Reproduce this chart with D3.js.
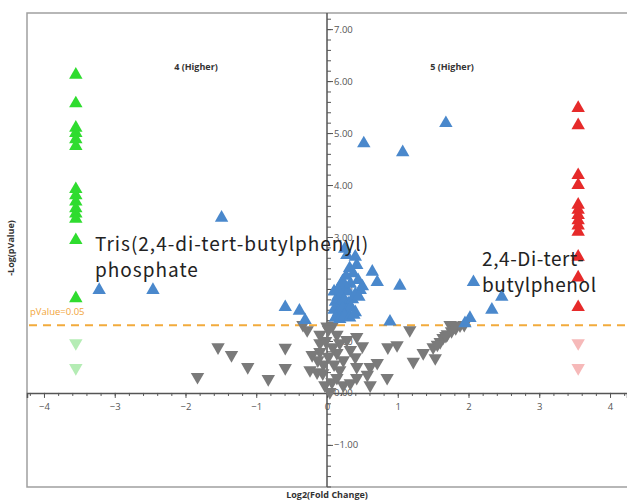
<!DOCTYPE html>
<html><head><meta charset="utf-8">
<script src="https://cdn.jsdelivr.net/npm/d3@7"></script>
<style>body{margin:0;background:#fff;} svg{display:block;}</style>
</head><body>
<svg id="chart" width="627" height="501"></svg>
<script>
// ---- data ----
const greenX = -3.55;
const greenUp = [6.12, 5.57, 5.10, 5.00, 4.88, 4.75, 3.92, 3.80, 3.68, 3.55, 3.45, 3.35, 2.94, 1.82];
const greenDown = [0.96, 0.48];
const redX = 3.55;
const redUp = [5.48, 5.15, 4.19, 4.00, 3.62, 3.52, 3.42, 3.32, 3.22, 3.10, 2.62, 2.22, 1.65];
const redDown = [0.96, 0.48];
const bluePoints = [
  [-3.22,1.98],[-2.46,1.98],[-1.49,3.37],[-0.59,1.65],[-0.39,1.58],[-0.31,1.40],
  [0.52,4.80],[1.07,4.63],[1.68,5.19],
  [0.25,2.77],[0.28,2.65],[0.40,2.62],[0.42,2.46],[0.37,2.30],[0.64,2.33],[0.71,2.13],[1.03,2.06],[0.44,2.17],[0.47,1.98],
  [0.10,1.95],[0.15,1.85],[0.20,1.90],[0.25,2.00],[0.30,1.95],[0.12,1.75],[0.18,1.70],[0.24,1.78],[0.30,1.72],[0.36,1.80],
  [0.40,1.90],[0.45,1.85],[0.10,1.60],[0.16,1.55],[0.22,1.62],[0.28,1.58],[0.34,1.65],[0.40,1.55],[0.12,1.45],[0.18,1.42],
  [0.25,1.48],[0.32,1.45],[0.38,1.50],[0.20,2.08],[0.33,2.10],[0.15,1.98],[0.50,2.05],[0.27,2.25],[0.32,2.40],[0.22,2.15],
  [0.89,1.37],[2.07,2.13],[2.47,1.85],[2.33,1.60],[2.02,1.44],[1.95,1.34]
];
const greyPoints = [
  [-1.83,0.31],[-1.54,0.88],[-1.35,0.73],[-1.12,0.50],[-0.83,0.27],[-0.59,0.87],[-0.59,0.48],
  [-0.34,1.31],[-0.28,1.21],[-0.10,1.12],[-0.10,0.96],[-0.10,0.79],[-0.21,0.73],[-0.13,0.63],[-0.24,0.44],
  [-0.14,0.40],[-0.06,0.38],[-0.03,0.15],[0.07,0.21],[0.04,0.02],[-0.05,0.55],[-0.02,1.00],[0.02,0.70],[0.00,1.28],
  [0.14,1.12],[0.18,0.96],[0.14,0.77],[0.23,0.63],[0.33,0.83],[0.42,1.08],[0.40,0.69],[0.42,0.50],[0.18,0.44],
  [0.14,0.29],[0.23,0.15],[0.33,0.19],[0.42,0.29],[0.61,0.50],[0.71,0.58],[0.57,0.35],[0.61,0.15],[0.85,0.29],
  [0.86,0.88],[0.99,0.92],[1.17,1.21],[1.22,0.60],[0.28,1.02],[0.08,0.88],[0.50,0.90],[0.10,0.55],[0.08,1.30],[0.02,1.22],
  [1.36,0.77],[1.50,0.88],[1.53,0.67],[1.60,0.98],[1.64,1.06],[1.70,1.13],[1.76,1.19],[1.82,1.25],[1.88,1.30],
  [1.94,1.31],[1.74,1.31],[1.80,1.28],[1.56,0.93],[1.68,1.10]
];
const pThreshold = 0.05;
const xTicks = [-4,-3,-2,-1,0,1,2,3,4];
const yTicks = [-1,0,1,2,3,4,5,6,7];
const groupLabels = ["4 (Higher)", "5 (Higher)"];
const annotLeft = ["Tris(2,4-di-tert-butylphenyl)", "phosphate"];
const annotRight = ["2,4-Di-tert-", "butylphenol"];

// ---- layout ----
const svg = d3.select("#chart");
const L = 27, T = 13, R = 627, B = 487;
const x = d3.scaleLinear().domain([-4.24, 4.24]).range([L, R]);
const y = d3.scaleLinear().domain([-1.81, 7.31]).range([B, T]);

// frame
svg.append("path").attr("d", `M${R+5},${T}H${L}V${B}H${R+5}`)
  .attr("fill","none").attr("stroke","#a0a0a0").attr("stroke-width",1.5);

// threshold line
const yth = y(-Math.log10(pThreshold));
svg.append("line").attr("x1",L+2).attr("x2",R).attr("y1",yth).attr("y2",yth)
  .attr("stroke","#f2ab3c").attr("stroke-width",2).attr("stroke-dasharray","8,6");
svg.append("text").attr("x",30).attr("y",yth-10).text("pValue=0.05")
  .attr("fill","#f2a53a").attr("font-family","Open Sans, sans-serif").attr("font-size",9.5);

// axes
const axCol = "#555";
const xMinor = d3.range(-4.2, 4.21, 0.2);
const gxm = svg.append("g").attr("transform",`translate(0,${y(0)})`)
  .call(d3.axisBottom(x).tickValues(xMinor).tickSize(3).tickFormat(""));
const gx = svg.append("g").attr("transform",`translate(0,${y(0)})`)
  .call(d3.axisBottom(x).tickValues(xTicks).tickSize(5).tickPadding(5).tickFormat(d3.format("d")));
gx.select(".domain").attr("stroke",axCol).attr("stroke-width",1.5);
gxm.select(".domain").remove();
const yMinor = d3.range(-1.8, 7.3, 0.2);
const gym = svg.append("g").attr("transform",`translate(${x(0)},0)`)
  .call(d3.axisRight(y).tickValues(yMinor).tickSize(4).tickFormat(""));
gym.select(".domain").remove();
const gy = svg.append("g").attr("transform",`translate(${x(0)},0)`)
  .call(d3.axisRight(y).tickValues(yTicks).tickSize(6).tickPadding(1).tickFormat(d3.format(".2f")));
gy.select(".domain").attr("stroke",axCol).attr("stroke-width",1.5).attr("d",`M0,${T}V${B}`);
svg.selectAll(".tick line").attr("stroke",axCol);
svg.selectAll(".tick text").attr("fill","#555").attr("font-family","Open Sans, sans-serif").attr("font-size",9.5);

// symbols
const tri = d3.symbol().type(d3.symbolTriangle).size(78);
function draw(points, color, down){
  svg.append("g").selectAll("path").data(points).join("path")
    .attr("d", tri)
    .attr("transform", d => `translate(${x(d[0])},${y(d[1])})` + (down ? " rotate(180)" : ""))
    .attr("fill", color);
}
draw(greyPoints, "#7a7a7a", true);
draw(bluePoints, "#4a88cc", false);
draw(greenDown.map(v => [greenX, v]), "#b4ecb4", true);
draw(redDown.map(v => [redX, v]), "#f6b9b9", true);
draw(greenUp.map(v => [greenX, v]), "#2fdc2f", false);
draw(redUp.map(v => [redX, v]), "#e62a2a", false);

// group labels
svg.append("text").attr("x",196).attr("y",70).attr("text-anchor","middle").text(groupLabels[0])
  .attr("font-family","Open Sans, sans-serif").attr("font-weight","bold").attr("font-size",9).attr("fill","#333");
svg.append("text").attr("x",452).attr("y",70).attr("text-anchor","middle").text(groupLabels[1])
  .attr("font-family","Open Sans, sans-serif").attr("font-weight","bold").attr("font-size",9).attr("fill","#333");

// axis titles
svg.append("text").attr("x",x(0)).attr("y",498).attr("text-anchor","middle").text("Log2(Fold Change)")
  .attr("font-family","Open Sans, sans-serif").attr("font-weight","bold").attr("font-size",9).attr("fill","#333");
svg.append("text").attr("transform","translate(14,248) rotate(-90)").attr("text-anchor","middle").text("-Log(pValue)")
  .attr("font-family","Open Sans, sans-serif").attr("font-weight","bold").attr("font-size",9).attr("fill","#333");

// annotations
const af = "'Noto Sans CJK JP', sans-serif";
annotLeft.forEach((t,i) => svg.append("text").attr("x",95).attr("y",251+i*26).text(t)
  .attr("font-family",af).attr("font-size",19).attr("letter-spacing",1).attr("fill","#222"));
annotRight.forEach((t,i) => svg.append("text").attr("x",482).attr("y",266+i*26).text(t)
  .attr("font-family",af).attr("font-size",19).attr("letter-spacing",0.6).attr("fill","#222"));
</script>
</body></html>
